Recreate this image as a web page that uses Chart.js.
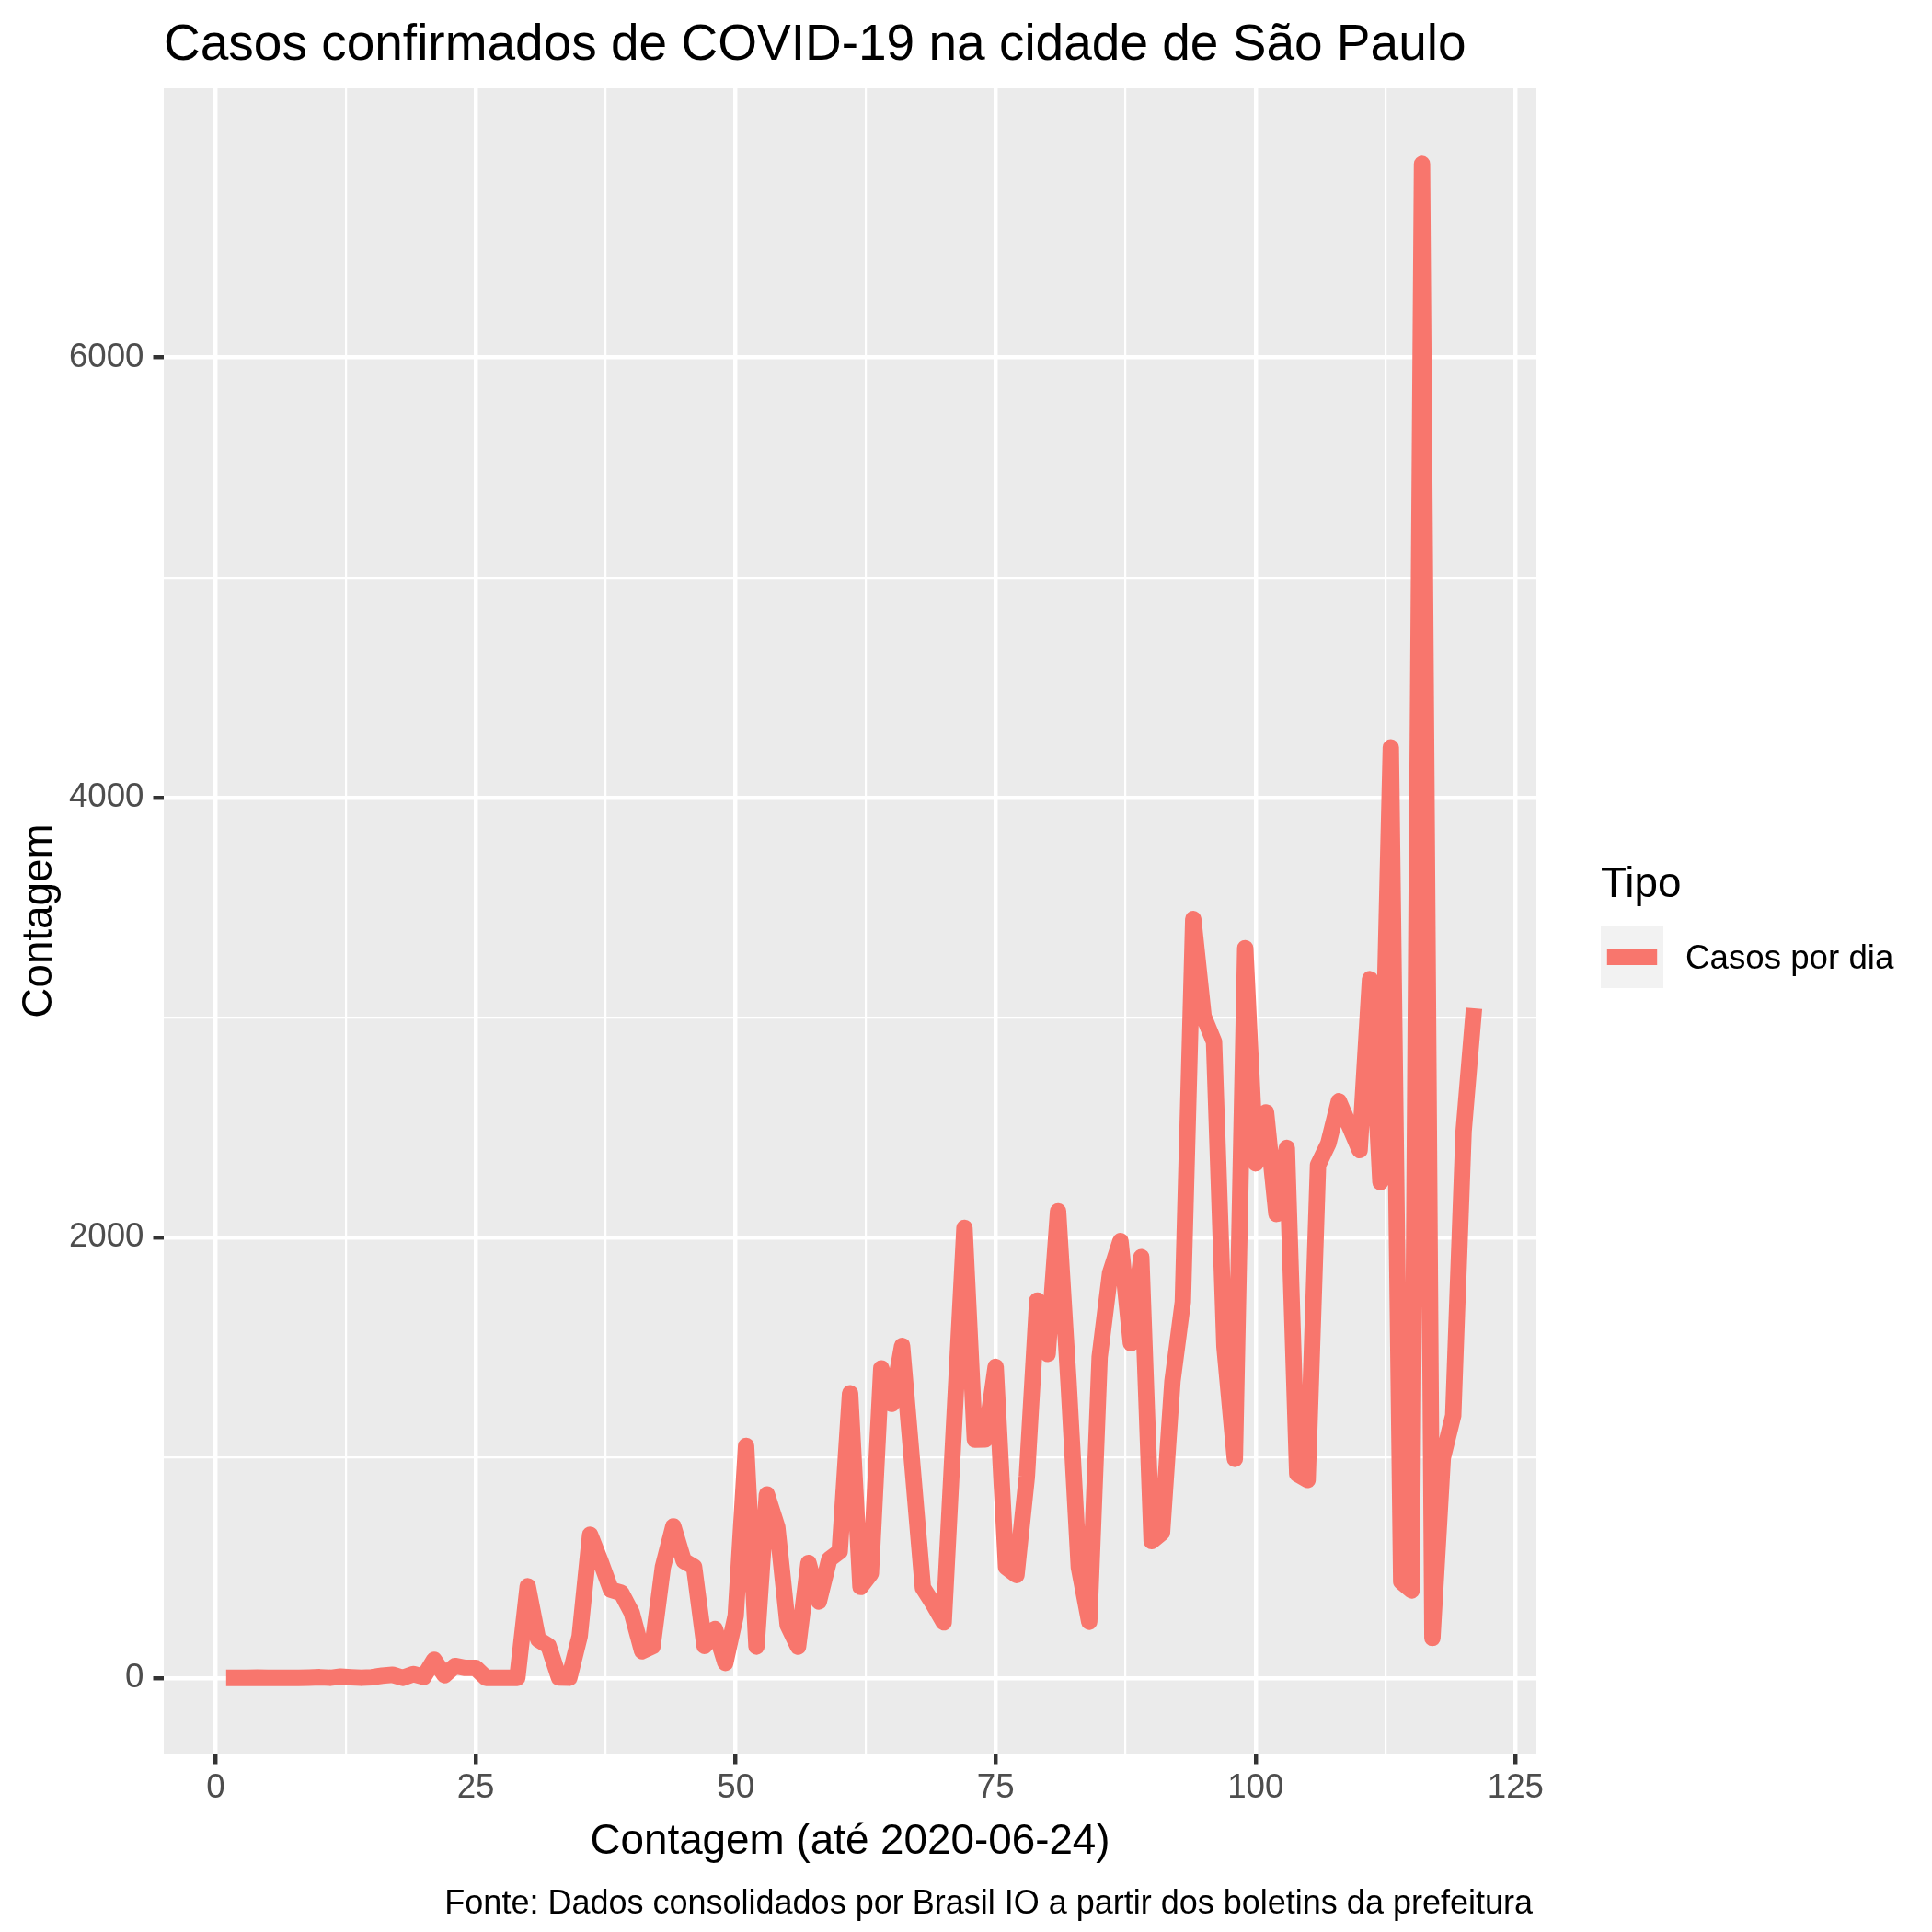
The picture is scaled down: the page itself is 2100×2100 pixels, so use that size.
<!DOCTYPE html>
<html>
<head>
<meta charset="utf-8">
<script src="https://cdn.jsdelivr.net/npm/chart.js@4.4.1/dist/chart.umd.min.js"></script>
<style>
  html, body { margin: 0; padding: 0; background: #fff; }
  #wrap { width: 2100px; height: 2100px; }
</style>
</head>
<body>
<div id="wrap"><canvas id="chart" width="2100" height="2100"></canvas></div>
<script>
// ── Data ─────────────────────────────────────────────────────
const dias = [
  1, 2, 3, 4, 5, 6, 7, 8, 9, 10, 11, 12, 13, 14, 15, 16, 17, 18, 19, 20,
  21, 22, 23, 24, 25, 26, 27, 28, 29, 30, 31, 32, 33, 34, 35, 36, 37, 38, 39, 40,
  41, 42, 43, 44, 45, 46, 47, 48, 49, 50, 51, 52, 53, 54, 55, 56, 57, 58, 59, 60,
  61, 62, 63, 64, 65, 66, 67, 68, 69, 70, 71, 72, 73, 74, 75, 76, 77, 78, 79, 80,
  81, 82, 83, 84, 85, 86, 87, 88, 89, 90, 91, 92, 93, 94, 95, 96, 97, 98, 99, 100,
  101, 102, 103, 104, 105, 106, 107, 108, 109, 110, 111, 112, 113, 114, 115, 116, 117, 118, 119, 120,
  121
];

const casosPorDia = [
  0, 0, 0, 1, 0, 0, 0, 0, 1, 3, 0, 6, 3, 0, 3, 10, 14, 0, 17, 5,
  82, 12, 54, 45, 45, 0, 0, 0, 0, 416, 175, 145, 2, 0, 190, 650, 530, 400, 386, 296,
  121, 143, 504, 688, 532, 504, 145, 222, 68, 282, 1054, 142, 833, 685, 240, 142, 522, 347, 539, 574,
  1293, 413, 474, 1406, 1245, 1508, 960, 410, 335, 252, 1150, 2045, 1082, 1083, 1413, 503, 467, 914, 1714, 1472,
  2120, 1350, 502, 255, 1457, 1838, 1985, 1520, 1912, 621, 660, 1348, 1708, 3448, 3005, 2890, 1505, 995, 3316, 2338,
  2569, 2108, 2408, 927, 899, 2330, 2429, 2620, 2509, 2398, 3175, 2253, 4228, 437, 397, 6879, 181, 1000, 1192, 2483,
  3042
];

const xTicks = [0, 25, 50, 75, 100, 125];
const xMinor = [12.5, 37.5, 62.5, 87.5, 112.5];
const yTicks = [0, 2000, 4000, 6000];
const yMinor = [1000, 3000, 5000];

// ── Layout (ggplot-like panel) ───────────────────────────────
const W = 2100, H = 2100;
const AREA = { left: 178, right: 1670, top: 96, bottom: 1906 };
const FONT = "'Liberation Sans', Arial, Helvetica, sans-serif";
const RED = '#F8766D';

// ggplot default expansion: 5% of the data range on each side
const xLo = Math.min(...dias), xHi = Math.max(...dias);
const yLo = Math.min(...casosPorDia), yHi = Math.max(...casosPorDia);
const xPad = (xHi - xLo) * 0.05, yPad = (yHi - yLo) * 0.05;

const xAll = xTicks.concat(xMinor).sort((a, b) => a - b);
const yAll = yTicks.concat(yMinor).sort((a, b) => a - b);

function isMajor(list) {
  return c => !!(c && c.tick && list.includes(c.tick.value));
}
const majorX = isMajor(xTicks);
const majorY = isMajor(yTicks);

// ── Panel background + texts ─────────────────────────────────
const ggTheme = {
  id: 'ggTheme',
  beforeDraw(chart) {
    const { ctx, chartArea: a } = chart;
    ctx.save();
    ctx.fillStyle = '#FFFFFF';
    ctx.fillRect(0, 0, chart.width, chart.height);
    ctx.fillStyle = '#EBEBEB';
    ctx.fillRect(a.left, a.top, a.right - a.left, a.bottom - a.top);
    ctx.restore();
  },
  afterDraw(chart) {
    const { ctx, chartArea: a } = chart;
    ctx.save();
    ctx.fillStyle = '#000000';
    ctx.textBaseline = 'alphabetic';

    // title
    ctx.font = `55px ${FONT}`;
    ctx.textAlign = 'left';
    ctx.fillText('Casos confirmados de COVID-19 na cidade de São Paulo', a.left, 65);

    // x axis title
    ctx.font = `45.8px ${FONT}`;
    ctx.textAlign = 'center';
    ctx.fillText('Contagem (até 2020-06-24)', (a.left + a.right) / 2, 2015);

    // y axis title
    ctx.save();
    ctx.translate(56, (a.top + a.bottom) / 2);
    ctx.rotate(-Math.PI / 2);
    ctx.fillText('Contagem', 0, 0);
    ctx.restore();

    // caption
    ctx.font = `36px ${FONT}`;
    ctx.textAlign = 'right';
    ctx.fillText('Fonte: Dados consolidados por Brasil IO a partir dos boletins da prefeitura', a.right - 4, 2080);

    // legend
    const kx = 1740, ky = 1006, ks = 68;
    ctx.textAlign = 'left';
    ctx.font = `45.8px ${FONT}`;
    ctx.fillText('Tipo', kx, 975);
    ctx.fillStyle = '#F2F2F2';
    ctx.fillRect(kx, ky, ks, ks);
    ctx.strokeStyle = RED;
    ctx.lineWidth = 17.8;
    ctx.lineCap = 'butt';
    ctx.beginPath();
    ctx.moveTo(kx + ks * 0.1, ky + ks / 2);
    ctx.lineTo(kx + ks * 0.9, ky + ks / 2);
    ctx.stroke();
    ctx.fillStyle = '#000000';
    ctx.font = `36.7px ${FONT}`;
    ctx.fillText('Casos por dia', 1832, ky + ks / 2 + 13);

    ctx.restore();
  }
};

// ── Chart ────────────────────────────────────────────────────
new Chart(document.getElementById('chart').getContext('2d'), {
  type: 'line',
  data: {
    datasets: [{
      label: 'Casos por dia',
      data: dias.map((d, i) => ({ x: d, y: casosPorDia[i] })),
      borderColor: RED,
      borderWidth: 17.8,
      borderJoinStyle: 'round',
      borderCapStyle: 'butt',
      pointRadius: 0,
      tension: 0,
      fill: false,
    }]
  },
  options: {
    responsive: false,
    devicePixelRatio: 1,
    animation: false,
    events: [],
    layout: { padding: { left: 0, top: AREA.top, right: W - AREA.right, bottom: 0 } },
    plugins: { legend: { display: false }, title: { display: false }, tooltip: { enabled: false } },
    scales: {
      x: {
        type: 'linear',
        min: xLo - xPad,
        max: xHi + xPad,
        afterBuildTicks: s => { s.ticks = xAll.map(v => ({ value: v })); },
        afterFit: s => { s.height = H - AREA.bottom; },
        border: { display: false },
        grid: {
          color: '#FFFFFF',
          lineWidth: c => majorX(c) ? 4.45 : 2.2,
          tickLength: 11.5,
          tickWidth: 4.45,
          tickColor: c => majorX(c) ? '#333333' : 'rgba(0,0,0,0)',
        },
        ticks: {
          autoSkip: false,
          maxRotation: 0,
          padding: 4,
          color: '#4D4D4D',
          font: { family: FONT, size: 36.7 },
          callback: v => xTicks.includes(v) ? String(v) : '',
        }
      },
      y: {
        type: 'linear',
        min: yLo - yPad,
        max: yHi + yPad,
        afterBuildTicks: s => { s.ticks = yAll.map(v => ({ value: v })); },
        afterFit: s => { s.width = AREA.left; },
        border: { display: false },
        grid: {
          color: '#FFFFFF',
          lineWidth: c => majorY(c) ? 4.45 : 2.2,
          tickLength: 11.5,
          tickWidth: 4.45,
          tickColor: c => majorY(c) ? '#333333' : 'rgba(0,0,0,0)',
        },
        ticks: {
          autoSkip: false,
          padding: 10,
          color: '#4D4D4D',
          font: { family: FONT, size: 36.7 },
          callback: v => yTicks.includes(v) ? String(v) : '',
        }
      }
    }
  },
  plugins: [ggTheme]
});
</script>
</body>
</html>
